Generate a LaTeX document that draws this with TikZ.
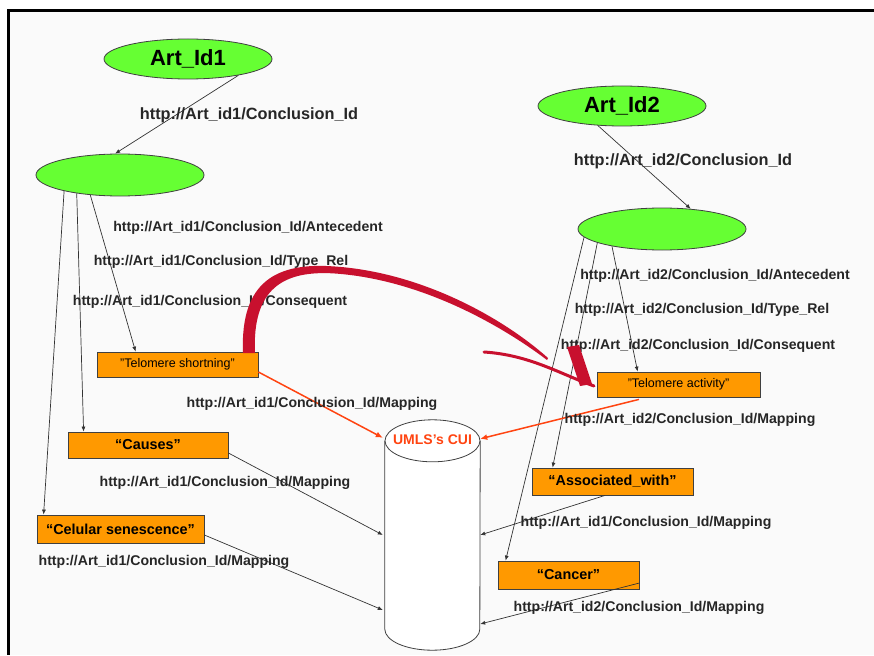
\documentclass[tikz,border=0pt]{standalone}
\usepackage{fontspec}
\setmainfont{Liberation Sans}
\usetikzlibrary{arrows.meta,shapes.geometric}
\definecolor{ngreen}{HTML}{66FF33}
\definecolor{borange}{HTML}{FF9900}
\definecolor{oarrow}{HTML}{FF4411}
\definecolor{swoosh}{HTML}{C8102E}
\tikzset{
 artell/.style={ellipse, draw=black!75, line width=0.8pt, fill=ngreen, minimum width=168pt, minimum height=40pt, inner sep=0pt, font=\fontsize{22}{24}\selectfont\bfseries},
 concell/.style={ellipse, draw=black!75, line width=0.8pt, fill=ngreen, minimum width=168pt, minimum height=42pt, inner sep=0pt},
 valbox/.style={rectangle, draw=black!75, line width=0.8pt, fill=borange, inner sep=0pt, font=\fontsize{14.4}{16}\selectfont\bfseries},
 smallbox/.style={valbox, font=\fontsize{12.5}{14}\selectfont},
 urlbig/.style={font=\fontsize{16.3}{18}\selectfont\bfseries, text=black!85, inner sep=0pt},
 url/.style={font=\fontsize{14.1}{16}\selectfont\bfseries, text=black!85, inner sep=0pt},
 link/.style={draw=black!80, line width=0.7pt, -{Latex[length=5pt,width=4pt]}},
 cuilink/.style={draw=oarrow, line width=1.5pt, -{Latex[length=7pt,width=6pt]}},
 dbline/.style={draw=black!75, line width=0.8pt},
}
\begin{document}
\begin{tikzpicture}[x=1pt,y=-1pt]
\useasboundingbox (0,0) rectangle (874,655);
\fill[gray!4] (8,10.5) rectangle (874,655);
\draw[line width=3pt] (874,10.5) -- (8,10.5) -- (8,655);

% ellipses
\node[artell] (a1) at (188,59) {Art\_Id1};
\node[concell] (c1) at (120,175) {};
\node[artell] (a2) at (622,106) {Art\_Id2};
\node[concell] (c2) at (662,229) {};

% value boxes
\node[smallbox, minimum width=161pt, minimum height=25pt] (t1) at (177.5,364.5) {"Telomere shortning"};
\node[valbox, minimum width=160pt, minimum height=26pt] (cz) at (148,445) {“Causes”};
\node[valbox, minimum width=167pt, minimum height=28pt] (cs) at (120.5,529) {“Celular senescence”};
\node[smallbox, minimum width=163pt, minimum height=25pt] (t2) at (678.5,384.5) {"Telomere activity"};
\node[valbox, minimum width=161pt, minimum height=27pt] (aw) at (612.5,481.5) {“Associated\_with”};
\node[valbox, minimum width=141pt, minimum height=28pt] (ca) at (568.5,575) {“Cancer”};

% cylinder
\node[minimum width=95pt, minimum height=230pt, inner sep=0pt] (db) at (432.5,535) {};
\draw[dbline, fill=white] ([yshift=-21pt]db.north west) -- ([yshift=21pt]db.south west)
  arc[start angle=180, end angle=360, x radius=47.5pt, y radius=21pt] -- ([yshift=-21pt]db.north east);
\draw[dbline, fill=white] ([yshift=-21pt]db.north) ellipse[x radius=47.5pt, y radius=21pt];
\node[font=\fontsize{14}{16}\selectfont\bfseries, text=oarrow, inner sep=0pt] (cui) at ([yshift=-20pt]db.north) {UMLS's CUI};

% connectors
\draw[link] (a1.342) -- (c1.103);
\draw[link] (a2.219) -- (c2.35);
\draw[link] (c1.196) -- ([xshift=7pt]cs.north west);
\draw[link] (c1.203) -- ([xshift=16pt]cz.north west);
\draw[link] (c1.214) -- ([xshift=39pt]t1.north west);
\draw[link] (c2.186) -- ([xshift=8pt]ca.north west);
\draw[link] (c2.192) -- ([xshift=21pt]aw.north west);
\draw[link] (c2.199) -- ([xshift=41pt]t2.north west);
\draw[cuilink] ([yshift=-7.5pt]t1.east) -- ([xshift=-2pt,yshift=-18pt]db.north west);
\draw[cuilink] ([xshift=-39.5pt,yshift=-2pt]t2.south) -- ([yshift=-19pt]db.north east);
\draw[link] ([yshift=-8pt]cz.east) -- ([xshift=-2pt]db.west);
\draw[link] ([yshift=-6pt]cs.east) -- ([xshift=-2pt,yshift=-75pt]db.west);
\draw[link] ([xshift=-7.5pt]aw.south) -- (db.east);
\draw[link] ([yshift=-8pt]ca.east) -- ([yshift=-89pt]db.east);

% labels
\node[urlbig] (l1) at (249,115) {http://Art\_id1/Conclusion\_Id};
\node[urlbig] (l2) at (683,161) {http://Art\_id2/Conclusion\_Id};
\node[url] (l3) at (248,228) {http://Art\_id1/Conclusion\_Id/Antecedent};
\node[url] (l4) at (221,262) {http://Art\_id1/Conclusion\_Id/Type\_Rel};
\node[url] (l5) at (210,302) {http://Art\_id1/Conclusion\_Id/Consequent};
\node[url] (l6) at (312,404) {http://Art\_id1/Conclusion\_Id/Mapping};
\node[url] (l7) at (225,483) {http://Art\_id1/Conclusion\_Id/Mapping};
\node[url] (l8) at (164,562) {http://Art\_id1/Conclusion\_Id/Mapping};
\node[url] (l9) at (715,276) {http://Art\_id2/Conclusion\_Id/Antecedent};
\node[url] (l10) at (702,310) {http://Art\_id2/Conclusion\_Id/Type\_Rel};
\node[url] (l11) at (698,346) {http://Art\_id2/Conclusion\_Id/Consequent};
\node[url] (l12) at (690,420) {http://Art\_id2/Conclusion\_Id/Mapping};
\node[url] (l13) at (646,523) {http://Art\_id1/Conclusion\_Id/Mapping};
\node[url] (l14) at (639,608) {http://Art\_id2/Conclusion\_Id/Mapping};

% red hand-drawn arrow
\fill[swoosh] (243,353) .. controls (240,281) and (277,262) .. (335,266.5)
  .. controls (421,272.5) and (502,317) .. (548,358)
  -- (547,360) .. controls (498,323) and (419,279.5) .. (335,273.5)
  .. controls (283,270) and (252,289) .. (255,353) -- cycle;
\draw[swoosh, line width=3pt, line cap=round] (484,352) .. controls (530,355) and (560,374) .. (594,386);
\fill[swoosh] (567,347) -- (579,345) -- (592,384) -- (580,386) -- cycle;
\end{tikzpicture}
\end{document}
